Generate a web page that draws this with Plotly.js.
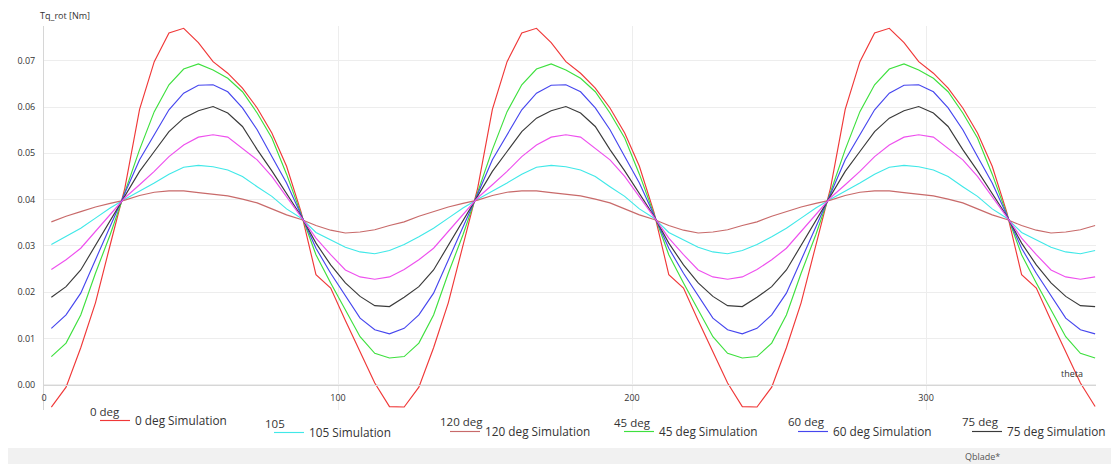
<!DOCTYPE html>
<html>
<head>
<meta charset="utf-8">
<script src="https://cdn.plot.ly/plotly-3.0.1.min.js"></script>
<style>
html,body{margin:0;padding:0;background:#ffffff;}
#chart{width:1111px;height:464px;}
</style>
</head>
<body>
<div id="chart"></div>
<script>
// ---------------- DATA ----------------
const theta = [2.5,7.5,12.5,17.5,22.5,27.5,32.5,37.5,42.5,47.5,52.5,57.5,62.5,67.5,72.5,77.5,82.5,87.5,92.5,97.5,102.5,107.5,112.5,117.5,
  122.5,127.5,132.5,137.5,142.5,147.5,152.5,157.5,162.5,167.5,172.5,177.5,182.5,187.5,192.5,197.5,202.5,207.5,212.5,217.5,222.5,227.5,232.5,237.5,
  242.5,247.5,252.5,257.5,262.5,267.5,272.5,277.5,282.5,287.5,292.5,297.5,302.5,307.5,312.5,317.5,322.5,327.5,332.5,337.5,342.5,347.5,352.5,357.5];

const tq_0deg = [
  -0.0048,-0.0005,0.0080,0.0177,0.0302,0.0425,0.0595,0.0698,0.0760,0.0770,0.0739,0.0698,0.0673,0.0641,0.0598,0.0544,0.0472,0.0372,0.0238,0.0209,0.0139,0.0072,0.0004,-0.0047,
  -0.0048,-0.0005,0.0080,0.0177,0.0302,0.0425,0.0595,0.0698,0.0760,0.0770,0.0739,0.0698,0.0673,0.0641,0.0598,0.0544,0.0472,0.0372,0.0238,0.0209,0.0139,0.0072,0.0004,-0.0047,
  -0.0048,-0.0005,0.0080,0.0177,0.0302,0.0425,0.0595,0.0698,0.0760,0.0770,0.0739,0.0698,0.0673,0.0641,0.0598,0.0544,0.0472,0.0372,0.0238,0.0209,0.0139,0.0072,0.0004,-0.0047];

const tq_45deg = [
  0.0061,0.0090,0.0151,0.0241,0.0324,0.0418,0.0508,0.0590,0.0648,0.0682,0.0693,0.0680,0.0662,0.0633,0.0587,0.0533,0.0455,0.0368,0.0281,0.0220,0.0162,0.0104,0.0068,0.0058,
  0.0061,0.0090,0.0151,0.0241,0.0324,0.0418,0.0508,0.0590,0.0648,0.0682,0.0693,0.0680,0.0662,0.0633,0.0587,0.0533,0.0455,0.0368,0.0281,0.0220,0.0162,0.0104,0.0068,0.0058,
  0.0061,0.0090,0.0151,0.0241,0.0324,0.0418,0.0508,0.0590,0.0648,0.0682,0.0693,0.0680,0.0662,0.0633,0.0587,0.0533,0.0455,0.0368,0.0281,0.0220,0.0162,0.0104,0.0068,0.0058];

const tq_60deg = [
  0.0122,0.0151,0.0198,0.0270,0.0338,0.0412,0.0486,0.0540,0.0594,0.0630,0.0647,0.0648,0.0633,0.0598,0.0551,0.0493,0.0436,0.0366,0.0295,0.0241,0.0191,0.0144,0.0119,0.0110,
  0.0122,0.0151,0.0198,0.0270,0.0338,0.0412,0.0486,0.0540,0.0594,0.0630,0.0647,0.0648,0.0633,0.0598,0.0551,0.0493,0.0436,0.0366,0.0295,0.0241,0.0191,0.0144,0.0119,0.0110,
  0.0122,0.0151,0.0198,0.0270,0.0338,0.0412,0.0486,0.0540,0.0594,0.0630,0.0647,0.0648,0.0633,0.0598,0.0551,0.0493,0.0436,0.0366,0.0295,0.0241,0.0191,0.0144,0.0119,0.0110];

const tq_75deg = [
  0.0189,0.0212,0.0248,0.0302,0.0356,0.0408,0.0461,0.0504,0.0547,0.0576,0.0592,0.0601,0.0587,0.0558,0.0508,0.0462,0.0414,0.0364,0.0306,0.0259,0.0220,0.0191,0.0171,0.0169,
  0.0189,0.0212,0.0248,0.0302,0.0356,0.0408,0.0461,0.0504,0.0547,0.0576,0.0592,0.0601,0.0587,0.0558,0.0508,0.0462,0.0414,0.0364,0.0306,0.0259,0.0220,0.0191,0.0171,0.0169,
  0.0189,0.0212,0.0248,0.0302,0.0356,0.0408,0.0461,0.0504,0.0547,0.0576,0.0592,0.0601,0.0587,0.0558,0.0508,0.0462,0.0414,0.0364,0.0306,0.0259,0.0220,0.0191,0.0171,0.0169];

const tq_90deg = [
  0.0249,0.0270,0.0295,0.0331,0.0367,0.0404,0.0432,0.0461,0.0493,0.0518,0.0535,0.0540,0.0535,0.0511,0.0486,0.0450,0.0407,0.0362,0.0317,0.0281,0.0248,0.0233,0.0228,0.0233,
  0.0249,0.0270,0.0295,0.0331,0.0367,0.0404,0.0432,0.0461,0.0493,0.0518,0.0535,0.0540,0.0535,0.0511,0.0486,0.0450,0.0407,0.0362,0.0317,0.0281,0.0248,0.0233,0.0228,0.0233,
  0.0249,0.0270,0.0295,0.0331,0.0367,0.0404,0.0432,0.0461,0.0493,0.0518,0.0535,0.0540,0.0535,0.0511,0.0486,0.0450,0.0407,0.0362,0.0317,0.0281,0.0248,0.0233,0.0228,0.0233];

const tq_105 = [
  0.0303,0.0320,0.0338,0.0360,0.0382,0.0401,0.0418,0.0436,0.0455,0.0470,0.0474,0.0471,0.0464,0.0450,0.0428,0.0407,0.0380,0.0360,0.0329,0.0313,0.0297,0.0287,0.0283,0.0290,
  0.0303,0.0320,0.0338,0.0360,0.0382,0.0401,0.0418,0.0436,0.0455,0.0470,0.0474,0.0471,0.0464,0.0450,0.0428,0.0407,0.0380,0.0360,0.0329,0.0313,0.0297,0.0287,0.0283,0.0290,
  0.0303,0.0320,0.0338,0.0360,0.0382,0.0401,0.0418,0.0436,0.0455,0.0470,0.0474,0.0471,0.0464,0.0450,0.0428,0.0407,0.0380,0.0360,0.0329,0.0313,0.0297,0.0287,0.0283,0.0290];

const tq_120deg = [
  0.0352,0.0364,0.0374,0.0384,0.0392,0.0399,0.0409,0.0416,0.0419,0.0419,0.0415,0.0411,0.0408,0.0401,0.0393,0.0380,0.0367,0.0357,0.0344,0.0334,0.0328,0.0330,0.0335,0.0344,
  0.0352,0.0364,0.0374,0.0384,0.0392,0.0399,0.0409,0.0416,0.0419,0.0419,0.0415,0.0411,0.0408,0.0401,0.0393,0.0380,0.0367,0.0357,0.0344,0.0334,0.0328,0.0330,0.0335,0.0344,
  0.0352,0.0364,0.0374,0.0384,0.0392,0.0399,0.0409,0.0416,0.0419,0.0419,0.0415,0.0411,0.0408,0.0401,0.0393,0.0380,0.0367,0.0357,0.0344,0.0334,0.0328,0.0330,0.0335,0.0344];

const seriesNames = ['0 deg Simulation','105 Simulation','120 deg Simulation','45 deg Simulation','60 deg Simulation','75 deg Simulation','90 deg Simulation'];
const groupTitles = ['0 deg','105','120 deg','45 deg','60 deg','75 deg'];
const yTickVals = [0,0.01,0.02,0.03,0.04,0.05,0.06,0.07];
const yTickText = ['0.00','0.01','0.02','0.03','0.04','0.05','0.06','0.07'];
const xTickVals = [0,100,200,300];
const xTickText = ['0','100','200','300'];

// ---------------- LAYOUT HELPERS ----------------
const W = 1111, H = 464;
const M = {l:44, r:15, t:26, b:54};
const PW = W - M.l - M.r, PH = H - M.t - M.b;
const px2x = px => (px - M.l) / PW;
const py2y = py => (H - M.b - py) / PH;
const yRange = [-0.00544, 0.0775];
const xRange = [0, 357.8];
const FONT = 'Open Sans, Lato, sans-serif';

const colors = ['#f03838','#40e8e8','#c86a6a','#3ee03e','#4646ee','#3a3a3a','#ee50ee'];
const ys = [tq_0deg, tq_105, tq_120deg, tq_45deg, tq_60deg, tq_75deg, tq_90deg];
const legendIds = ['legend','legend2','legend3','legend4','legend5','legend6', null];
// [line-sample start px, line centre px, title left px, title centre px]
const legPos = [[100,421,88,411],[274,433,263,423],[450,432,438,421],[624,432,612,422],[798,432,786,421],[972,432,960,421]];

const traces = ys.map((y,i) => {
  const t = {
    type:'scatter', mode:'lines', x: theta, y: y, name: seriesNames[i],
    line:{color: colors[i], width:1.15},
    hoverinfo:'skip'
  };
  if (legendIds[i]) { t.legend = legendIds[i]; t.showlegend = true; }
  else { t.showlegend = false; }
  return t;
});

const annotations = [
  {text:'Tq_rot [Nm]', xref:'paper', yref:'paper', x: px2x(38), y: py2y(15), xanchor:'left', yanchor:'middle', showarrow:false, font:{family:FONT, size:9, color:'#333333'}},
  {text:'theta', xref:'paper', yref:'paper', x: px2x(1072), y: py2y(373), xanchor:'center', yanchor:'middle', showarrow:false, font:{family:FONT, size:9, color:'#333333'}},
  {text:'Qblade*', xref:'paper', yref:'paper', x: px2x(982), y: py2y(456), xanchor:'center', yanchor:'middle', showarrow:false, font:{family:FONT, size:9, color:'#555555'}}
];
legPos.forEach((p, i) => {
  annotations.push({text: groupTitles[i], xref:'paper', yref:'paper', x: px2x(p[2]), y: py2y(p[3]),
    xanchor:'left', yanchor:'middle', showarrow:false, font:{family:FONT, size:11.5, color:'#333333'}});
});

const layout = {
  width: W, height: H,
  margin: {l:M.l, r:M.r, t:M.t, b:M.b, pad:0, autoexpand:false},
  paper_bgcolor:'#ffffff', plot_bgcolor:'#ffffff',
  font:{family:FONT, size:9, color:'#333333'},
  xaxis:{
    range: xRange, tickvals: xTickVals, ticktext: xTickText,
    showgrid:true, gridcolor:'#ededed', gridwidth:1,
    zeroline:false, showline:true, linecolor:'#d6d6d6', linewidth:1,
    anchor:'free', position: (0 - yRange[0]) / (yRange[1] - yRange[0]),
    ticks:'', tickfont:{family:FONT, size:9, color:'#333333'}, ticklabelstandoff:4
  },
  yaxis:{
    range: yRange, tickvals: yTickVals, ticktext: yTickText,
    showgrid:true, gridcolor:'#ededed', gridwidth:1,
    zeroline:false, showline:true, linecolor:'#d6d6d6', linewidth:1,
    ticks:'', tickfont:{family:FONT, size:9, color:'#333333'}, ticklabelstandoff:6
  },
  shapes:[{
    type:'rect', xref:'paper', yref:'paper',
    x0: px2x(8), x1: px2x(1111), y0: py2y(464), y1: py2y(448),
    fillcolor:'#f1f1f1', line:{width:0}, layer:'below'
  }],
  annotations: annotations
};

legPos.forEach((p, i) => {
  layout[legendIds[i]] = {
    x: px2x(p[0] - 5), y: py2y(p[1] - 15), xanchor:'left', yanchor:'top',
    orientation:'h', bgcolor:'rgba(0,0,0,0)', borderwidth:0,
    font:{family:FONT, size:11.8, color:'#333333'},
    itemclick:false, itemdoubleclick:false
  };
});

Plotly.newPlot('chart', traces, layout, {staticPlot:true, displayModeBar:false});
</script>
</body>
</html>
